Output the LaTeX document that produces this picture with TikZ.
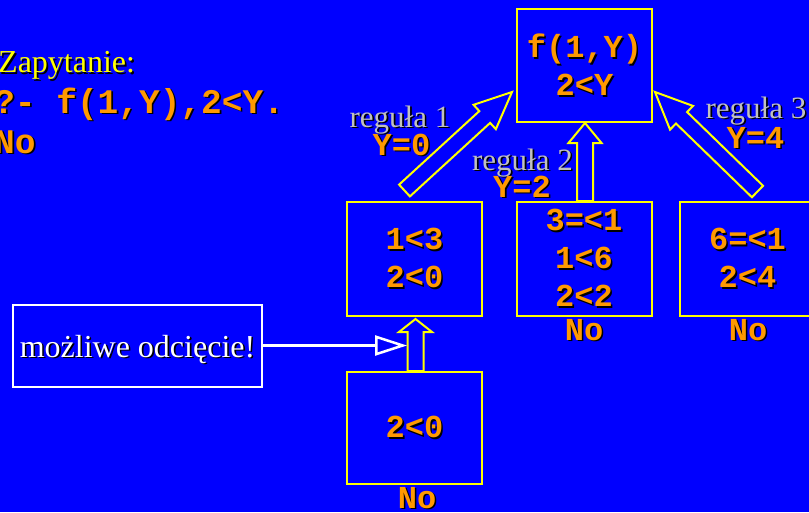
\documentclass[tikz,border=0pt]{standalone}
\usepackage{fontspec}
\setmainfont{Liberation Serif}
\newfontfamily\codefont{Liberation Mono}
\usetikzlibrary{calc,arrows.meta}

\definecolor{slideblue}{RGB}{0,0,255}
\definecolor{goalorange}{RGB}{255,153,0}
\definecolor{lemon}{RGB}{255,255,0}
\definecolor{silvergray}{RGB}{192,192,192}

% text with a dark drop shadow
\newcommand\shd[2]{{\rlap{\kern1.6pt\raisebox{-1.6pt}{\color{black}#2}}\color{#1}#2}}
\newcommand\goal[1]{\shd{goalorange}{#1}}

% hollow block arrow: tail point, tip point, head length
\newcommand\blockarrow[3]{%
  \coordinate (ba-base) at ($(#2)!#3pt!(#1)$);
  \draw[blockedge]
    ($(#1)!8pt!90:(#2)$) -- ($(ba-base)!8pt!90:(#2)$) --
    ($(ba-base)!16.5pt!90:(#2)$) -- (#2) --
    ($(ba-base)!16.5pt!-90:(#2)$) -- ($(ba-base)!8pt!-90:(#2)$) --
    ($(#1)!8pt!-90:(#2)$) -- cycle;
}

\tikzset{
  goalbox/.style={draw=lemon, line width=2pt, inner sep=0pt,
    minimum width=135pt, minimum height=113pt, align=center,
    font=\codefont\bfseries\fontsize{32}{38}\selectfont},
  notebox/.style={draw=white, line width=2pt, inner sep=0pt,
    minimum width=249pt, minimum height=82pt, text depth=0pt,
    font=\fontsize{32}{38}\selectfont},
  blockedge/.style={draw=lemon, fill=slideblue, line width=2pt, line join=miter},
  codetext/.style={inner sep=0pt, anchor=base,
    font=\codefont\bfseries\fontsize{32}{38}\selectfont},
  ruletext/.style={inner sep=0pt, anchor=base,
    font=\fontsize{31}{36}\selectfont},
  cutarrow/.style={draw=white, line width=2.5pt,
    -{Triangle[open, length=32pt, width=20pt, fill=slideblue]}},
}

\begin{document}
\begin{tikzpicture}[x=1pt, y=-1pt]
  \clip (0,0) rectangle (809,512);
  \fill[slideblue] (0,0) rectangle (809,512);

  % query
  \node[inner sep=0pt, anchor=base west, font=\fontsize{32}{38}\selectfont]
    (query) at (-2,72.5) {\shd{lemon}{Zapytanie:}};
  \node[inner sep=0pt, anchor=base west,
    font=\codefont\bfseries\fontsize{34.5}{40}\selectfont]
    (querycode) at (-6,113) {\goal{?- f(1,Y),2<Y.}};
  \node[inner sep=0pt, anchor=base west,
    font=\codefont\bfseries\fontsize{34.5}{40}\selectfont]
    (queryans) at (-6,153) {\goal{No}};

  % resolution tree
  \node[goalbox] (root) at (584.5,65.5) {\goal{f(1,Y)}\\\goal{2<Y}};
  \node[goalbox, minimum height=114pt] (r1) at (414.5,259) {\goal{1<3}\\\goal{2<0}};
  \node[goalbox, minimum height=114pt] (r2) at (584,259) {\goal{3=<1}\\\goal{1<6}\\\goal{2<2}};
  \node[goalbox, minimum height=114pt] (r3) at (747.5,259) {\goal{6=<1}\\\goal{2<4}};
  \node[goalbox, minimum height=112pt] (sub) at (414.5,428) {\goal{2<0}};

  % block arrows pointing back to the parent goal
  \coordinate (t1) at ($(r1.north)+(-10,-10.5)$);
  \coordinate (h1) at ($(root.west)+(-4,26.5)$);
  \blockarrow{t1}{h1}{37}
  \coordinate (t2) at ($(r2.north)+(1,0)$);
  \coordinate (h2) at (t2 |- root.south);
  \blockarrow{t2}{h2}{20}
  \coordinate (t3) at ($(r3.north)+(10,-9.5)$);
  \coordinate (h3) at ($(root.east)+(2,26.5)$);
  \blockarrow{t3}{h3}{37}
  \coordinate (t4) at ($(sub.north)+(1,0)$);
  \coordinate (h4) at ($(r1.south)+(1,2)$);
  \blockarrow{t4}{h4}{13}

  % rule labels
  \node[ruletext] (rule1) at (400,127) {\shd{silvergray}{reguła 1}};
  \node[codetext] (bind1) at (401.5,155) {\goal{Y=0}};
  \node[ruletext] (rule2) at (522.5,170) {\shd{silvergray}{reguła 2}};
  \node[codetext] (bind2) at (522,197) {\goal{Y=2}};
  \node[ruletext] (rule3) at (756,118) {\shd{silvergray}{reguła 3}};
  \node[codetext] (bind3) at (755.5,148) {\goal{Y=4}};

  % failures
  \node[codetext] (no2) at (584,340) {\goal{No}};
  \node[codetext] (no3) at (748,340) {\goal{No}};
  \node[codetext] (nosub) at (417,508) {\goal{No}};

  % cut note
  \node[notebox] (note) at (137.5,346) {\shd{white}{możliwe odcięcie!}};
  \coordinate (cutpoint) at ($($(t4)!0.5!(h4)$)+(-8.5,0.5)$);
  \draw[cutarrow] (note.east |- cutpoint) -- (cutpoint);
\end{tikzpicture}
\end{document}
